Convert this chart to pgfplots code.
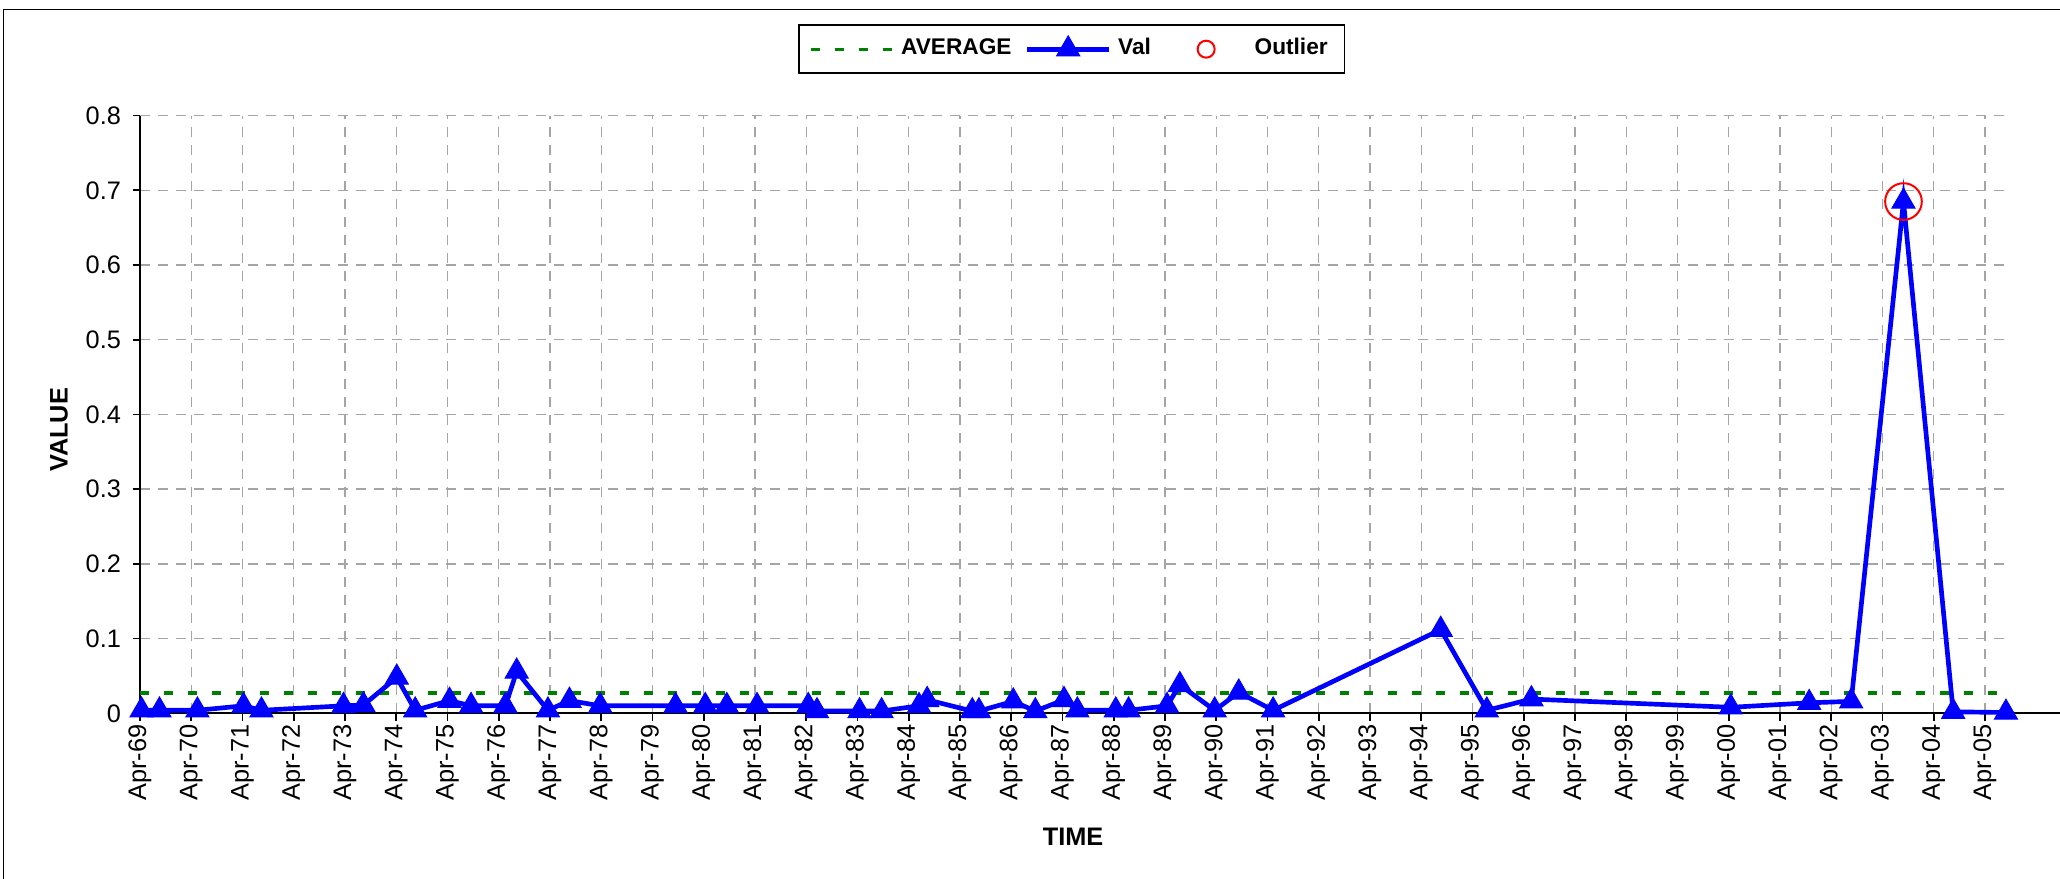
\documentclass[border=0pt]{standalone}
\usepackage{fontspec}
\setmainfont{Liberation Sans}
\usepackage{pgfplots}
\pgfplotsset{compat=1.18}
\definecolor{avggreen}{RGB}{0,128,0}
\definecolor{valblue}{RGB}{0,0,255}
\definecolor{gridgray}{RGB}{165,165,165}

\pgfplotsset{
  avg legend/.style={legend image code/.code={\path (0pt,0pt) (24.6pt,0pt);
    \draw[##1] (0pt,0pt) -- (24.6pt,0pt);}},
  val legend/.style={legend image code/.code={\draw[mark repeat=2, mark phase=2, ##1]
    plot coordinates {(0pt,0pt) (12.3pt,0pt) (24.6pt,0pt)};}},
  out legend/.style={legend image code/.code={\path (0pt,0pt) (24.6pt,0pt);
    \draw[red, line width=0.6pt] (12.3pt,0pt) circle (2.55pt);}},
}

\begin{document}
\begin{tikzpicture}
\begin{axis}[
  at={(42pt,49.71pt)}, anchor=south west,
  scale only axis,
  width=560.4pt, height=179.3pt,
  xmin=1969.25, xmax=2005.70,
  ymin=0, ymax=0.8,
  clip=false,
  axis lines*=left,
  axis line style={line width=0.5pt},
  x axis line style={shorten >=-15.6pt},
  tick align=outside,
  major tick length=2.2pt,
  tick style={black, line width=0.5pt},
  grid=major,
  major grid style={gridgray, line width=0.4pt, dash pattern=on 3pt off 2.4pt},
  xtick={1969.25,1970.25,1971.25,1972.25,1973.25,1974.25,1975.25,1976.25,
         1977.25,1978.25,1979.25,1980.25,1981.25,1982.25,1983.25,1984.25,
         1985.25,1986.25,1987.25,1988.25,1989.25,1990.25,1991.25,1992.25,
         1993.25,1994.25,1995.25,1996.25,1997.25,1998.25,1999.25,2000.25,
         2001.25,2002.25,2003.25,2004.25,2005.25},
  xticklabels={Apr-69,Apr-70,Apr-71,Apr-72,Apr-73,Apr-74,Apr-75,Apr-76,
               Apr-77,Apr-78,Apr-79,Apr-80,Apr-81,Apr-82,Apr-83,Apr-84,
               Apr-85,Apr-86,Apr-87,Apr-88,Apr-89,Apr-90,Apr-91,Apr-92,
               Apr-93,Apr-94,Apr-95,Apr-96,Apr-97,Apr-98,Apr-99,Apr-00,
               Apr-01,Apr-02,Apr-03,Apr-04,Apr-05},
  ytick={0,0.1,0.2,0.3,0.4,0.5,0.6,0.7,0.8},
  /pgf/number format/assume math mode=true,
  yticklabel style={/pgf/number format/fixed, /pgf/number format/precision=1},
  every tick label/.append style={font=\fontsize{7.6}{9}\selectfont},
  xticklabel style={rotate=90, anchor=east, inner sep=1pt},
  xlabel={TIME}, ylabel={VALUE},
  every axis x label/.style={at={(axis description cs:0.4995,-0.207)}, anchor=center,
    font=\fontsize{7.6}{9}\selectfont\bfseries},
  every axis y label/.style={at={(axis description cs:-0.0434,0.474)}, rotate=90, anchor=center,
    font=\fontsize{7.6}{9}\selectfont\bfseries},
  legend columns=-1,
  legend cell align=left,
  legend style={at={(0.4988,1.1528)}, anchor=north, draw=black, line width=0.5pt,
    font=\fontsize{6.8}{8}\selectfont\bfseries,
    /tikz/every even column/.append style={column sep=2pt}},
]

% average line
\addplot[avggreen, line width=1pt, dash pattern=on 2.8pt off 4.4pt, avg legend]
  coordinates {(1969.25,0.027) (2005.5,0.027)};
\addlegendentry{AVERAGE}

% series
\addplot[valblue, line width=1.4pt, mark=triangle*, mark size=4pt,
  mark options={solid, fill=valblue, line width=0.3pt}, val legend]
  coordinates {
    (1969.28,0.004) (1969.63,0.004) (1970.37,0.004) (1971.27,0.010)
    (1971.62,0.004) (1973.22,0.010) (1973.61,0.011) (1974.26,0.048)
    (1974.62,0.004) (1975.29,0.017) (1975.71,0.010) (1976.38,0.010)
    (1976.60,0.056) (1977.21,0.004) (1977.63,0.017) (1978.23,0.010)
    (1979.70,0.010) (1980.28,0.010) (1980.70,0.010) (1981.29,0.010)
    (1982.29,0.010) (1982.46,0.003) (1983.29,0.003) (1983.72,0.003)
    (1984.45,0.010) (1984.61,0.018) (1985.49,0.003) (1985.62,0.003)
    (1986.29,0.016) (1986.72,0.003) (1987.28,0.018) (1987.54,0.004)
    (1988.29,0.004) (1988.54,0.004) (1989.29,0.010) (1989.54,0.038)
    (1990.22,0.004) (1990.69,0.028) (1991.36,0.004) (1994.63,0.112)
    (1995.53,0.004) (1996.40,0.019) (2000.29,0.008) (2001.82,0.014)
    (2002.64,0.016) (2003.66,0.685) (2004.63,0.002) (2005.66,0.001)
  };
\addlegendentry{Val}

% outlier
\addplot[red, only marks, mark=o, mark size=5.5pt, mark options={line width=0.6pt}, out legend]
  coordinates {(2003.66,0.685)};
\addlegendentry{Outlier}
\end{axis}

% chart area border (top and left edges)
\draw[line width=0.3pt] (1pt,0pt) -- (1pt,260.9pt) -- (618pt,260.9pt);
\pgfresetboundingbox
\path[use as bounding box] (0pt,0pt) rectangle (618pt,263.7pt);
\end{tikzpicture}
\end{document}
